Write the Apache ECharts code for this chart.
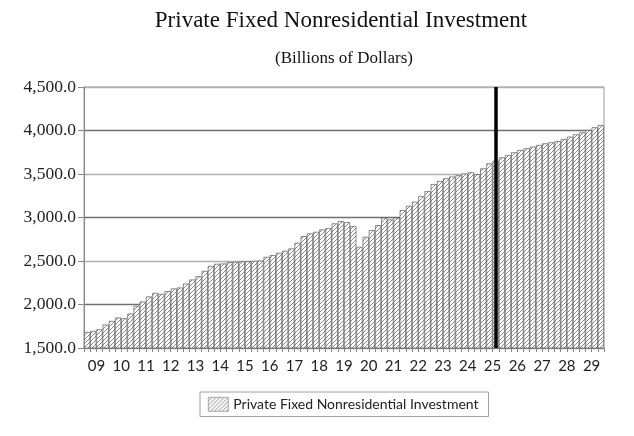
<!DOCTYPE html>
<html><head><meta charset="utf-8">
<script src="https://cdn.jsdelivr.net/npm/echarts@6/dist/echarts.min.js"></script>
<style>html,body{margin:0;padding:0;background:#fff}#c{width:634px;height:436px}</style>
</head><body><div id="c"></div>
<script>
const chartTitle = 'Private Fixed Nonresidential Investment';
const chartSubtitle = '(Billions of Dollars)';
const seriesName = 'Private Fixed Nonresidential Investment';
const yearLabels = ['09','10','11','12','13','14','15','16','17','18','19','20','21','22','23','24','25','26','27','28','29'];
const quarterNames = ['Q1','Q2','Q3','Q4'];
const values = [
  1684, 1696, 1715, 1769,
  1811, 1850, 1842, 1896,
  1984, 2034, 2092, 2133,
  2122, 2153, 2184, 2195,
  2241, 2287, 2325, 2386,
  2444, 2467, 2471, 2486,
  2490, 2494, 2498, 2501,
  2506, 2547, 2567, 2594,
  2617, 2644, 2709, 2786,
  2817, 2835, 2863, 2878,
  2932, 2958, 2947, 2901,
  2663, 2778, 2855, 2912,
  2997, 2978, 2997, 3085,
  3135, 3181, 3246, 3304,
  3384, 3419, 3450, 3470,
  3485, 3505, 3520, 3496,
  3565, 3622, 3652, 3691,
  3718, 3749, 3776, 3795,
  3814, 3833, 3852, 3864,
  3879, 3902, 3929, 3956,
  3979, 4006, 4037, 4063
];
const yTicks = { min: 1500, max: 4500, interval: 500 };
const forecastMarkerIndex = 66;

const categories = [];
yearLabels.forEach(y => quarterNames.forEach(q => categories.push(y + q)));

function makeHatch() {
  const c = document.createElement('canvas');
  c.width = 4; c.height = 4;
  const g = c.getContext('2d');
  g.fillStyle = '#ffffff';
  g.fillRect(0, 0, 4, 4);
  g.strokeStyle = '#8c8c8c';
  g.lineWidth = 1;
  g.beginPath();
  g.moveTo(0, 4); g.lineTo(4, 0);
  g.moveTo(-1, 1); g.lineTo(1, -1);
  g.moveTo(3, 5); g.lineTo(5, 3);
  g.stroke();
  return c;
}

const chart = echarts.init(document.getElementById('c'), null, { renderer: 'canvas' });
const hatch = { image: makeHatch(), repeat: 'repeat' };

chart.setOption({
  animation: false,
  backgroundColor: '#ffffff',
  title: [
    { text: chartTitle, left: 336, top: 4, textAlign: 'center',
      textStyle: { fontFamily: 'Liberation Serif', fontSize: 23, fontWeight: 'normal', color: '#111' } },
    { text: chartSubtitle, left: 339, top: 45, textAlign: 'center',
      textStyle: { fontFamily: 'Liberation Serif', fontSize: 17, fontWeight: 'normal', color: '#111' } }
  ],
  legend: {
    left: 200, top: 392,
    padding: [5, 10, 5, 8],
    borderColor: '#a0a0a0', borderWidth: 1,
    itemWidth: 20, itemHeight: 14, itemGap: 8,
    textStyle: { fontFamily: 'Lato', fontSize: 14, color: '#222' },
    data: [{ name: seriesName, icon: 'rect', itemStyle: { color: hatch, borderColor: '#777', borderWidth: 0.6 } }]
  },
  grid: { left: 84, right: 30, top: 87, bottom: 88, show: true, borderColor: '#9a9a9a', borderWidth: 1 },
  xAxis: [
    { type: 'category', data: categories, boundaryGap: true,
      axisLine: { lineStyle: { color: '#888', width: 1 } },
      axisTick: { show: true, interval: 0, length: 4, lineStyle: { color: '#888' } },
      axisLabel: { show: false }, splitLine: { show: false } },
    { type: 'category', data: yearLabels, position: 'bottom', boundaryGap: true,
      axisLine: { show: false }, axisTick: { show: false }, splitLine: { show: false },
      axisLabel: { interval: 0, margin: 11, fontFamily: 'Lato', fontSize: 15, color: '#222' } }
  ],
  yAxis: {
    type: 'value', min: yTicks.min, max: yTicks.max, interval: yTicks.interval,
    axisLine: { show: true, lineStyle: { color: '#888' } },
    axisTick: { show: true, length: 6, lineStyle: { color: '#888' } },
    axisLabel: { margin: 8, fontFamily: 'Liberation Serif', fontSize: 17.5, color: '#222',
      formatter: v => v.toLocaleString('en-US', { minimumFractionDigits: 1, maximumFractionDigits: 1 }) },
    splitLine: { show: true, lineStyle: { color: ['#b0b0b0', '#707070'], width: 1.4 } }
  },
  series: [{
    name: seriesName, type: 'bar', xAxisIndex: 0, data: values,
    barCategoryGap: '0%', barGap: '0%',
    itemStyle: { color: hatch, borderColor: '#5c5c5c', borderWidth: 0.7 },
    emphasis: { disabled: true },
    markLine: {
      silent: true, symbol: ['none', 'none'], label: { show: false },
      lineStyle: { color: '#000', width: 3.5, type: 'solid' },
      data: [{ xAxis: forecastMarkerIndex }]
    }
  }]
});
</script>
</body></html>
